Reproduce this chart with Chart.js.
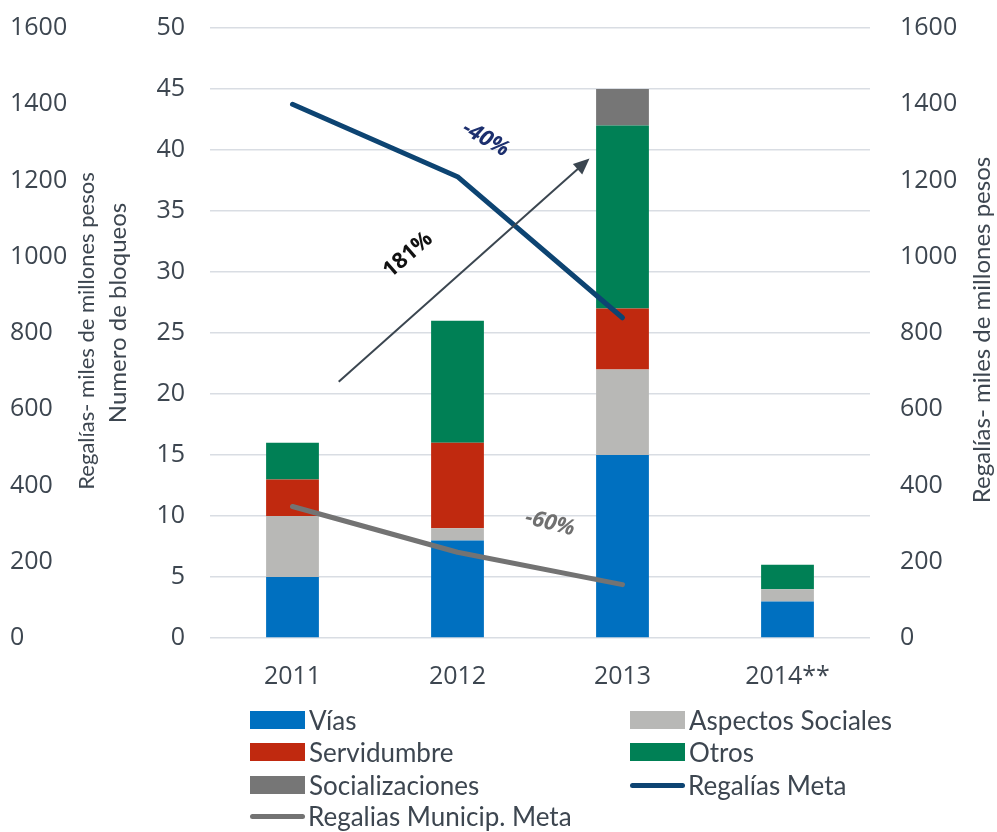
<!DOCTYPE html>
<html>
<head>
<meta charset="utf-8">
<script src="https://cdn.jsdelivr.net/npm/chart.js@4.4.0/dist/chart.umd.min.js"></script>
<style>
  html, body { margin: 0; padding: 0; background: #fff; }
  #wrap { position: relative; width: 997px; height: 832px; }
  #legend { position: absolute; left: 0; top: 0; width: 997px; height: 832px; pointer-events: none;
            font-family: Lato, "Open Sans", sans-serif; font-size: 26px; color: #3d4650; }
  .item { position: absolute; height: 30px; display: flex; align-items: center; white-space: nowrap; }
  .box { width: 55px; height: 18px; margin-right: 4px; }
  .ln { width: 55px; height: 5px; border-radius: 3px; margin-right: 3px; }
</style>
</head>
<body>
<div id="wrap">
  <canvas id="myChart" width="997" height="832"></canvas>
  <div id="legend"></div>
</div>
<script>
// data
const years = ['2011', '2012', '2013', '2014**'];
const vias = [5, 8, 15, 3];
const aspectosSociales = [5, 1, 7, 1];
const servidumbre = [3, 7, 5, 0];
const otros = [3, 10, 15, 2];
const socializaciones = [0, 0, 3, 0];
const regaliasMeta = [1400, 1210, 840, null];
const regaliasMunicip = [345, 225, 140, null];

const bloqueosMax = 50, bloqueosStep = 5;
const regaliasMax = 1600, regaliasStep = 200;

const textColor = '#3d4650';
const tickFont = { family: 'Open Sans', size: 25 };
const xTickFont = { family: 'Open Sans', size: 25 };

// annotations (category index / axis value)
const arrowFrom = [0.28, 21];
const arrowTo = [1.8, 39.3];
const notes = [
    { text: '181%', at: [0.70, 31.4], angle: -41, color: '#111111', font: 'bold 22px "Open Sans"' },
    { text: '-40%', at: [1.17, 40.9], angle: 30, color: '#1c2f6e', font: 'italic bold 22px "Open Sans"' },
    { text: '-60%', at: [1.56, 9.4], angle: 14, color: '#707070', font: 'italic bold 22px "Open Sans"' }
];

//bar dataset helper
function barSet(label, data, color) {
    return {
        type: 'bar', label: label, data: data, backgroundColor: color,
        yAxisID: 'y', order: 2, categoryPercentage: 1, barPercentage: 0.32
    };
}
function lineSet(label, data, color) {
    return {
        type: 'line', label: label, data: data, borderColor: color, backgroundColor: color,
        borderWidth: 5, pointRadius: 0, borderCapStyle: 'round', borderJoinStyle: 'round',
        tension: 0, yAxisID: 'y1', order: 0, spanGaps: false
    };
}

const datasets = [
    barSet('Vías', vias, '#0070c0'),
    barSet('Aspectos Sociales', aspectosSociales, '#b8b8b6'),
    barSet('Servidumbre', servidumbre, '#c0290f'),
    barSet('Otros', otros, '#008055'),
    barSet('Socializaciones', socializaciones, '#767676'),
    lineSet('Regalías Meta', regaliasMeta, '#0d4472'),
    lineSet('Regalias Municip. Meta', regaliasMunicip, '#737373')
];

const plainNumber = v => String(v);
// fixed axis width, and no extra top/bottom room from the tick padding
const fixWidth = w => s => { s.width = w; s.paddingTop = 0; s.paddingBottom = 0; };

//draws axis titles, arrow and percentage notes
const extras = {
    id: 'extras',
    afterDatasetsDraw(chart) {
        const ctx = chart.ctx;
        const x = chart.scales.x, y = chart.scales.y;
        ctx.save();
        // arrow
        const x1 = x.getPixelForValue(arrowFrom[0]), y1 = y.getPixelForValue(arrowFrom[1]);
        const x2 = x.getPixelForValue(arrowTo[0]), y2 = y.getPixelForValue(arrowTo[1]);
        const ang = Math.atan2(y2 - y1, x2 - x1);
        ctx.strokeStyle = '#3b4650';
        ctx.fillStyle = '#3b4650';
        ctx.lineWidth = 2;
        ctx.beginPath();
        ctx.moveTo(x1, y1);
        ctx.lineTo(x2 - 12 * Math.cos(ang), y2 - 12 * Math.sin(ang));
        ctx.stroke();
        ctx.beginPath();
        ctx.moveTo(x2, y2);
        ctx.lineTo(x2 - 16 * Math.cos(ang) + 7 * Math.sin(ang), y2 - 16 * Math.sin(ang) - 7 * Math.cos(ang));
        ctx.lineTo(x2 - 16 * Math.cos(ang) - 7 * Math.sin(ang), y2 - 16 * Math.sin(ang) + 7 * Math.cos(ang));
        ctx.closePath();
        ctx.fill();
        // notes
        notes.forEach(n => {
            ctx.save();
            ctx.translate(x.getPixelForValue(n.at[0]), y.getPixelForValue(n.at[1]));
            ctx.rotate(n.angle * Math.PI / 180);
            ctx.font = n.font;
            ctx.fillStyle = n.color;
            ctx.textAlign = 'center';
            ctx.textBaseline = 'middle';
            ctx.fillText(n.text, 0, 0);
            ctx.restore();
        });
        // axis titles
        const titles = [
            { text: 'Regalías- miles de millones pesos', x: 87, y: 331, size: 22 },
            { text: 'Numero de bloqueos', x: 118, y: 313, size: 24 },
            { text: 'Regalías- miles de millones pesos', x: 982, y: 330, size: 24 }
        ];
        titles.forEach(t => {
            ctx.save();
            ctx.translate(t.x, t.y);
            ctx.rotate(-Math.PI / 2);
            ctx.font = t.size + 'px Lato';
            ctx.fillStyle = textColor;
            ctx.textAlign = 'center';
            ctx.textBaseline = 'middle';
            ctx.fillText(t.text, 0, 0);
            ctx.restore();
        });
        ctx.restore();
    }
};

let myChart = new Chart(document.getElementById('myChart').getContext('2d'), {
    data: { labels: years, datasets: datasets },
    options: {
        responsive: false,
        animation: false,
        layout: { padding: { left: 10, top: 28, right: 0, bottom: 0 } },
        plugins: { legend: { display: false }, tooltip: { enabled: false } },
        scales: {
            x: {
                stacked: true,
                grid: { display: false, drawTicks: false },
                border: { display: false },
                ticks: { color: textColor, font: xTickFont, padding: 24 },
                afterFit: s => { s.height = 194; }
            },
            y: {
                position: 'left', stacked: true, min: 0, max: bloqueosMax, weight: 0,
                ticks: { stepSize: bloqueosStep, color: textColor, font: tickFont, padding: 25, callback: plainNumber },
                grid: { color: '#d9dde3', lineWidth: 1.5, drawTicks: false },
                border: { display: false },
                afterFit: fixWidth(110)
            },
            y2: {
                position: 'left', min: 0, max: regaliasMax, weight: 1,
                ticks: { stepSize: regaliasStep, color: textColor, font: tickFont, crossAlign: 'far', callback: plainNumber },
                grid: { display: false, drawTicks: false },
                border: { display: false },
                afterFit: fixWidth(90)
            },
            y1: {
                position: 'right', min: 0, max: regaliasMax,
                ticks: { stepSize: regaliasStep, color: textColor, font: tickFont, padding: 30, callback: plainNumber },
                grid: { display: false, drawTicks: false },
                border: { display: false },
                afterFit: fixWidth(127)
            }
        }
    },
    plugins: [extras]
});

//html legend
const legendPos = [
    [250, 720], [630, 720], [250, 752], [630, 752], [250, 785], [630, 785], [250, 816]
];
let legendHtml = '';
datasets.forEach((d, i) => {
    const mark = d.type === 'bar'
        ? `<span class="box" style="background:${d.backgroundColor}"></span>`
        : `<span class="ln" style="background:${d.borderColor}"></span>`;
    legendHtml += `<div class="item" style="left:${legendPos[i][0]}px;top:${legendPos[i][1] - 15}px">${mark}${d.label}</div>`;
});
document.getElementById('legend').innerHTML = legendHtml;
</script>
</body>
</html>
